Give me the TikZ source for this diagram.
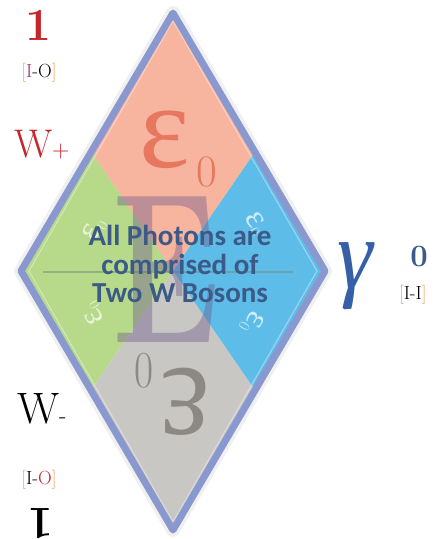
\documentclass[tikz,border=0pt]{standalone}
\usepackage{fix-cm}
\usepackage{fontspec}
\newfontfamily\carlito{Carlito}
\newfontfamily\lserif{Liberation Serif}
\definecolor{pinkr}{HTML}{F7B49E}
\definecolor{greenr}{HTML}{B6D98A}
\definecolor{bluer}{HTML}{5EBDE8}
\definecolor{grayr}{HTML}{C9C7C4}
\definecolor{bordc}{HTML}{8A98D0}
\definecolor{epsc}{HTML}{E7775E}
\definecolor{threec}{HTML}{8C8985}
\definecolor{bigEc}{HTML}{6E5A8C}
\definecolor{msgc}{HTML}{3C5A88}
\definecolor{gamc}{HTML}{3560A8}
\definecolor{redl}{HTML}{C5262E}
\definecolor{brk}{HTML}{E9A25A}
\definecolor{purl}{HTML}{9B3A66}
\definecolor{hlc}{HTML}{6F8A78}
\tikzset{
  lab/.style={inner sep=0pt, outer sep=0pt},
  whiteeps/.style={lab, text=white, text opacity=0.7},
  brlabel/.style={lab, font=\fontsize{19}{19}\selectfont},
}
\newcommand{\ob}{\textcolor{brk}{[}}
\newcommand{\cb}{\textcolor{brk}{]}}
\newcommand{\epsz}{{\lserif\fontsize{34}{34}\selectfont ε}\raisebox{-4pt}{\fontsize{16}{16}\selectfont 0}}
\begin{document}
\begin{tikzpicture}[x=1pt,y=-1pt]
\useasboundingbox (0,0) rectangle (436,539);
\fill[white] (0,0) rectangle (436,539);
\coordinate (T) at (173,13);
\coordinate (L) at (21,271);
\coordinate (R) at (325,271);
\coordinate (B) at (173,530);
\coordinate (C) at (173,271);
\coordinate (P1) at (91,152);
\coordinate (P2) at (255,152);
\coordinate (P3) at (91,390);
\coordinate (P4) at (255,390);
\coordinate (H1) at (43,272);
\coordinate (H2) at (293,272);
\coordinate (Ti) at (173,21);
\coordinate (Li) at (29,271);
\coordinate (Ri) at (317,271);
\coordinate (Bi) at (173,522);
% soft shadow
\draw[line width=14, black, opacity=0.06, line join=round, shift={(4,5)}] (T)--(R)--(B)--(L)--cycle;
% regions
\fill[pinkr] (T) -- (P2) -- (C) -- (P1) -- cycle;
\fill[greenr] (P1) -- (C) -- (P3) -- (L) -- cycle;
\fill[grayr] (C) -- (P4) -- (B) -- (P3) -- cycle;
\fill[bluer] (P2) -- (R) -- (P4) -- (C) -- cycle;
% horizontal line
\draw[line width=1.2, hlc, opacity=0.5] (H1) -- (H2);
% big E
\node[lab, text=bigEc, text opacity=0.42, font=\fontsize{214}{214}\selectfont\bfseries, xscale=0.68] (bigE) at (166,270) {E};
% epsilon top and rotated bottom
\node[lab, text=epsc, font=\lserif\fontsize{120}{120}\selectfont] (epstop) at (165,140) {ε};
\node[lab, text=epsc, font=\fontsize{45}{45}\selectfont] (zerotop) at (207,172) {0};
\node[lab, text=threec, font=\lserif\fontsize{140}{140}\selectfont, rotate=180, xscale=0.85] (epsbot) at (186,402) {ε};
\node[lab, text=threec, font=\fontsize{52}{52}\selectfont, xscale=0.8] (zerobot) at (144,371) {0};
% white rotated epsilons
\node[whiteeps, rotate=60] (wUL) at (95,230) {\epsz};
\node[whiteeps, rotate=120] (wLL) at (94,313) {\epsz};
\node[whiteeps, rotate=240] (wLR) at (252,322) {\epsz};
\node[whiteeps, rotate=300] (wUR) at (255,224) {\epsz};
% message
\node[lab, text=msgc, align=center, font=\carlito\bfseries\fontsize{29}{28.5}\selectfont] (msg) at (180,264)
  {All Photons are\\comprised of\\Two W Bosons};
% border
\draw[line width=7, bordc, line join=round] (T)--(R)--(B)--(L)--cycle;
\draw[line width=1.2, white, opacity=0.35, line join=round] (Ti)--(Ri)--(Bi)--(Li)--cycle;
% left labels
\node[lab, text=redl, font=\fontsize{46}{46}\selectfont\bfseries] (one) at (38,25) {1};
\node[brlabel] (brtop) at (39,73) {\ob\textcolor{purl}{I}-\textcolor{black}{O}\cb};
\node[lab, text=redl, anchor=base west] (wplus) at (14,157) {\fontsize{40}{40}\selectfont W\fontsize{24}{24}\selectfont +};
\node[lab, text=black, anchor=base west] (wminus) at (17,423) {\fontsize{44}{44}\selectfont W\fontsize{24}{24}\selectfont -};
\node[brlabel] (brbot) at (39,480) {\ob\textcolor{black}{I}-\textcolor{redl}{O}\cb};
\node[lab, text=black, font=\fontsize{46}{46}\selectfont\bfseries, rotate=180] (onebot) at (41,524) {1};
% right labels
\node[lab, text=gamc, font=\lserif\itshape\fontsize{100}{100}\selectfont, xscale=0.9] (gam) at (355,276) {γ};
\node[lab, text=msgc, font=\fontsize{31}{31}\selectfont\bfseries] (zero) at (419,257) {0};
\node[brlabel, anchor=west] (brright) at (399,295) {\ob\textcolor{black}{I-I}\cb};
\end{tikzpicture}
\end{document}
